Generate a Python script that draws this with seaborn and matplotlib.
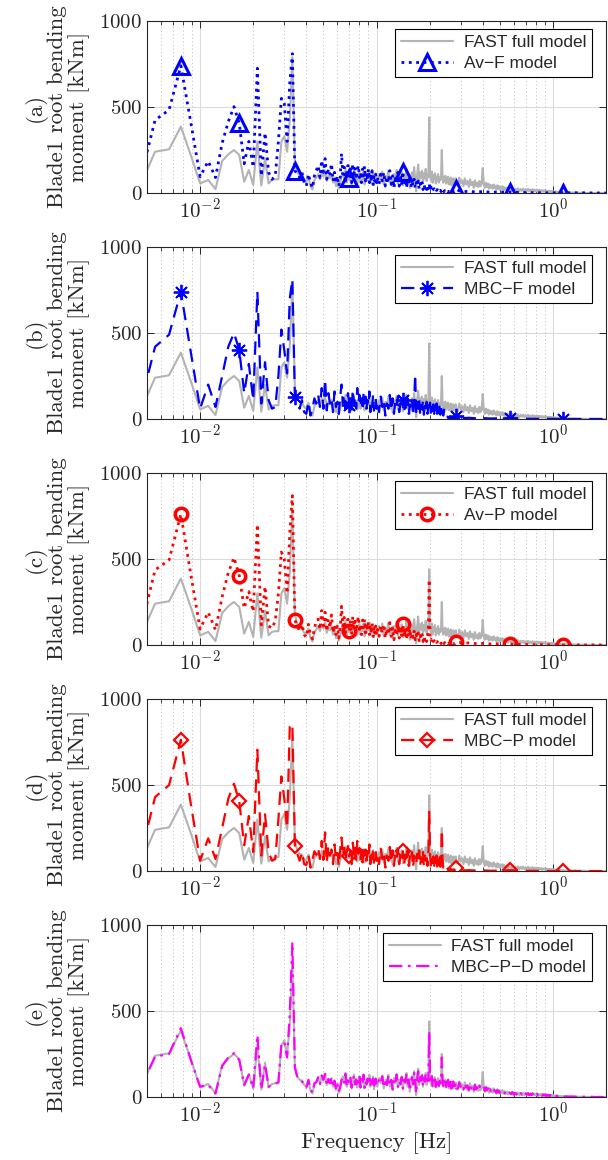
import numpy as np
import pandas as pd
import seaborn as sns
import matplotlib.pyplot as plt
from matplotlib.ticker import LogLocator, NullFormatter, FixedLocator

# FFT bins (bin width 1/900 Hz); values in [kNm]
DF = 1 / 900
LOW_BINS = list(range(4, 91))
MID_BINS = list(range(91, 256, 2))
FAST_TAIL_BINS = list(range(260, 501, 5)) + list(range(510, 1001, 10)) + list(range(1020, 1801, 30))
MODEL_TAIL_BINS = [265, 280, 300, 330, 360, 400, 450, 511, 600, 700, 850, 1023, 1300, 1800]
MARKER_BINS = [7, 15, 31, 63, 127, 255, 511, 1023]

# --- FAST full model ---
fast_low = [15, 240, 254, 386, 215, 56, 76, 23, 186, 225, 250, 221, 66, 134, 47, 300, 43, 200, 56, 76,
            80, 80, 300, 330, 240, 420, 790, 180, 120, 100, 95, 70,
            60, 95, 40, 20, 75, 90, 110, 80, 120, 95, 130, 70, 100, 85, 110, 60, 90, 40, 70, 25,
            60, 95, 120, 80, 140, 60, 100, 75, 115, 50, 90, 130, 70, 105, 55, 95, 120, 60, 100, 80,
            125, 50, 95, 70, 110, 85, 130, 60, 100, 75, 120, 45, 90, 110, 70]
fast_mid = [60, 110, 80, 125, 50, 100, 75, 130, 60, 95, 40, 110, 80, 135, 55, 100, 70, 120, 45, 95,
            80, 140, 60, 105, 30, 90, 120, 70, 150, 85, 10, 110, 165, 70, 120, 90, 130, 60, 115, 85,
            140, 70, 110, 90, 440, 100, 75, 125, 60, 105, 80, 115, 55, 95, 70, 110, 60, 90, 75, 105,
            250, 85, 60, 95, 70, 100, 55, 85, 65, 95, 50, 80, 60, 90, 45, 75, 55, 85, 50, 70,
            60, 85, 45]
fast_tail = [45, 90, 55, 75, 40, 85, 50, 70, 35, 80, 45, 65, 30, 75, 40, 60, 35, 70, 40, 55,
             145, 50, 30, 60, 35, 55, 25, 50, 30, 45, 25, 50, 30, 40, 20, 45, 25, 40, 20, 35,
             25, 40, 20, 35, 18, 30, 20, 32, 15,
             28, 15, 30, 12, 25, 14, 27, 10, 24, 13, 25, 11, 22, 12, 24, 10, 20, 11, 22, 9,
             19, 10, 20, 8, 18, 9, 17, 7, 16, 8, 15, 6, 14, 7, 13, 6, 12, 5, 11, 6,
             10, 4, 9, 5, 8, 4, 7, 3, 6, 3,
             5, 2, 4, 1, 3, 2, 3, 1, 2, 1, 2, 1, 1, 0, 1, 0, 1, 0, 1, 0, 0, 1, 0, 0, 0, 0, 0]

# --- (a) Av-F model ---
avf_low = [30, 424, 483, 740, 400, 95, 185, 90, 290, 415, 502, 405, 170, 300, 150, 725, 100, 350, 120, 80,
           100, 300, 550, 520, 300, 640, 810, 130, 110, 90, 120, 60,
           40, 110, 60, 30, 100, 130, 160, 90, 190, 120, 200, 80, 140, 110, 170, 70, 120, 60, 100, 40,
           90, 230, 110, 150, 70, 120, 160, 87, 140, 60, 170, 110, 150, 80, 130, 160, 90, 120, 60, 140,
           100, 155, 70, 120, 90, 140, 60, 110, 80, 130, 50, 100, 70, 110, 60]
avf_mid = [90, 50, 110, 70, 120, 40, 95, 60, 130, 50, 100, 30, 85, 60, 120, 40, 90, 55, 125, 45,
           85, 30, 75, 50, 95, 35, 70, 45, 80, 30, 60, 40, 70, 25, 55, 35, 60, 20, 50, 30,
           45, 20, 40, 25, 55, 20, 35, 15, 30, 20, 25, 12, 22, 15, 20, 10, 18, 12, 16, 8,
           20, 10, 15, 8, 14, 7, 12, 8, 12, 6, 10, 7, 11, 5, 10, 6, 9, 5, 8, 6,
           8, 12, 22]
avf_tail = [12, 8, 10, 6, 8, 5, 6, 5, 3, 2, 1, 2, 1, 0]

# --- (b) MBC-F model ---
mbcf_low = [30, 420, 490, 740, 380, 60, 200, 70, 250, 420, 500, 401, 150, 320, 110, 740, 90, 330, 110, 60,
            70, 250, 520, 400, 265, 700, 812, 125, 100, 60, 110, 40,
            30, 100, 20, 60, 120, 90, 140, 70, 180, 60, 230, 50, 150, 90, 120, 40, 160, 70, 100, 30,
            130, 200, 90, 140, 60, 110, 150, 80, 120, 40, 170, 90, 130, 60, 180, 100, 140, 70, 120, 50,
            150, 90, 130, 60, 110, 80, 160, 40, 100, 70, 140, 50, 90, 120, 60]
mbcf_mid = [100, 40, 130, 70, 110, 20, 90, 60, 140, 50, 120, 30, 100, 70, 130, 40, 90, 60, 110, 35,
            95, 50, 120, 30, 85, 60, 110, 20, 90, 260, 40, 100, 60, 120, 30, 80, 55, 110, 25, 90,
            60, 100, 30, 80, 50, 95, 25, 70, 45, 85, 30, 75, 40, 90, 20, 65, 35, 80, 25, 60,
            40, 70, 20, 55, 15, 10, 12, 8, 14, 6, 10, 5, 12, 7, 9, 4, 8, 6, 10, 5,
            7, 9, 15]
mbcf_tail = [8, 5, 7, 4, 5, 3, 4, 5, 2, 1, 1, 0, 0, 0]

# --- (c) Av-P model ---
avp_low = [30, 436, 494, 760, 400, 93, 190, 87, 280, 420, 508, 403, 213, 310, 194, 701, 116, 340, 110, 97,
           140, 300, 540, 500, 300, 650, 868, 145, 110, 80, 120, 60,
           45, 120, 60, 35, 95, 140, 150, 90, 200, 110, 190, 80, 150, 100, 175, 70, 115, 60, 110, 40,
           95, 225, 110, 160, 70, 125, 150, 80, 135, 60, 165, 110, 155, 80, 125, 165, 90, 115, 60, 145,
           100, 150, 70, 125, 90, 135, 60, 115, 80, 125, 50, 105, 70, 110, 60]
avp_mid = [90, 50, 110, 70, 120, 40, 95, 60, 130, 50, 100, 30, 85, 60, 120, 40, 90, 55, 120, 45,
           85, 30, 75, 50, 95, 35, 70, 45, 80, 30, 60, 40, 70, 25, 55, 35, 60, 20, 50, 30,
           45, 20, 50, 100, 380, 30, 35, 15, 30, 20, 25, 12, 22, 15, 20, 10, 18, 12, 16, 8,
           20, 10, 15, 8, 14, 7, 12, 8, 12, 6, 10, 7, 11, 5, 10, 6, 9, 5, 8, 6,
           8, 12, 15]
avp_tail = [15, 10, 12, 8, 9, 6, 7, 5, 3, 2, 1, 0, 0, 0]

# --- (d) MBC-P model ---
mbcp_low = [30, 430, 500, 763, 380, 60, 190, 70, 250, 420, 508, 405, 150, 320, 110, 705, 90, 330, 110, 60,
            70, 300, 550, 420, 250, 840, 857, 147, 100, 60, 110, 40,
            35, 95, 20, 65, 115, 95, 135, 70, 175, 65, 225, 50, 145, 90, 125, 40, 155, 70, 105, 30,
            125, 195, 90, 135, 60, 115, 145, 85, 120, 40, 165, 90, 135, 60, 175, 100, 135, 70, 125, 50,
            145, 90, 125, 60, 115, 80, 155, 40, 105, 70, 135, 50, 95, 115, 60]
mbcp_mid = [100, 40, 130, 70, 110, 20, 90, 60, 140, 50, 120, 30, 100, 70, 130, 40, 90, 60, 115, 35,
            95, 50, 120, 30, 85, 60, 110, 20, 90, 70, 40, 100, 60, 120, 30, 80, 55, 110, 25, 90,
            60, 100, 30, 80, 350, 95, 25, 70, 45, 85, 30, 75, 40, 90, 20, 65, 35, 80, 25, 60,
            240, 70, 20, 30, 15, 10, 12, 8, 14, 6, 10, 5, 12, 7, 9, 4, 8, 6, 10, 5,
            7, 9, 15]
mbcp_tail = [6, 4, 5, 3, 4, 2, 3, 5, 2, 1, 0, 0, 0, 0]

# --- (e) MBC-P-D model ---
mbcpd_low = [20, 235, 250, 400, 210, 60, 70, 20, 180, 230, 255, 215, 70, 130, 50, 360, 45, 190, 60, 70,
             80, 85, 310, 320, 230, 480, 900, 170, 115, 105, 90, 75,
             55, 100, 45, 25, 80, 85, 115, 75, 125, 100, 135, 65, 105, 80, 115, 55, 95, 45, 75, 30,
             55, 100, 115, 85, 135, 65, 95, 80, 110, 55, 85, 125, 75, 100, 60, 90, 125, 55, 105, 75,
             130, 55, 90, 75, 105, 90, 125, 65, 95, 80, 115, 50, 95, 105, 75]
mbcpd_mid = [65, 105, 85, 120, 55, 105, 70, 125, 65, 100, 45, 105, 85, 130, 60, 95, 75, 115, 50, 100,
             85, 135, 65, 100, 35, 95, 115, 75, 140, 90, 20, 105, 150, 75, 115, 95, 125, 65, 110, 90,
             135, 75, 105, 95, 380, 105, 80, 120, 65, 100, 85, 110, 60, 100, 75, 105, 65, 95, 80, 100,
             230, 90, 65, 100, 75, 95, 60, 90, 70, 100, 55, 85, 65, 95, 50, 80, 60, 90, 55, 75,
             65, 80, 50]
mbcpd_tail = [50, 85, 60, 70, 45, 80, 55, 65, 40, 75, 50, 60, 35, 70, 45, 55, 40, 65, 45, 50,
              60, 55, 35, 55, 40, 50, 30, 45, 35, 40, 30, 45, 35, 35, 25, 40, 30, 35, 25, 30,
              30, 35, 25, 30, 22, 28, 24, 28, 18,
              26, 17, 28, 14, 24, 15, 25, 12, 23, 14, 24, 12, 21, 13, 22, 11, 19, 12, 20, 10,
              18, 11, 19, 9, 17, 10, 16, 8, 15, 9, 14, 7, 13, 8, 12, 7, 11, 6, 10, 7,
              9, 5, 8, 6, 7, 5, 6, 4, 5, 4,
              4, 3, 3, 2, 3, 2, 2, 1, 2, 1, 1, 1, 1, 0, 1, 0, 1, 0, 0, 0, 0, 0, 0, 0, 0, 0, 0]

FAST_BINS = LOW_BINS + MID_BINS + FAST_TAIL_BINS
MODEL_BINS = LOW_BINS + MID_BINS + MODEL_TAIL_BINS

PANELS = [
    ("(a)", "Av\u2212F model", MODEL_BINS, avf_low + avf_mid + avf_tail,
     dict(color="blue", linestyle=":", linewidth=2.0, marker="^", markersize=11, markeredgewidth=2.2)),
    ("(b)", "MBC\u2212F model", MODEL_BINS, mbcf_low + mbcf_mid + mbcf_tail,
     dict(color="blue", dashes=(6, 3.5), linewidth=1.6, marker=(8, 2, 0), markersize=11, markeredgewidth=1.3)),
    ("(c)", "Av\u2212P model", MODEL_BINS, avp_low + avp_mid + avp_tail,
     dict(color="red", linestyle=":", linewidth=2.0, marker="o", markersize=9, markeredgewidth=2.5)),
    ("(d)", "MBC\u2212P model", MODEL_BINS, mbcp_low + mbcp_mid + mbcp_tail,
     dict(color="red", dashes=(6, 3.5), linewidth=1.6, marker="D", markersize=7.5, markeredgewidth=1.6)),
    ("(e)", "MBC\u2212P\u2212D model", FAST_BINS, mbcpd_low + mbcpd_mid + mbcpd_tail,
     dict(color="magenta", dashes=(6, 2.5, 1.2, 2.5), linewidth=1.6)),
]

sns.set_theme(style="white")
plt.rcParams.update({
    "font.family": "cmr10",
    "mathtext.fontset": "cm",
    "axes.formatter.use_mathtext": True,
    "axes.unicode_minus": True,
})

fast = pd.DataFrame({"freq": np.array(FAST_BINS) * DF, "moment": fast_low + fast_mid + fast_tail})

fig = plt.figure(figsize=(6.08, 11.6), dpi=100)
bottoms = [0.8336, 0.6388, 0.4440, 0.2491, 0.0543]
for (tag, name, bins, vals, style), bottom in zip(PANELS, bottoms):
    ax = fig.add_axes([0.2418, bottom, 0.755, 0.1483])
    model = pd.DataFrame({"freq": np.array(bins) * DF, "moment": vals})
    sns.lineplot(data=fast, x="freq", y="moment", ax=ax, color=(0.7, 0.7, 0.7),
                 linewidth=1.5, estimator=None, sort=False, label="FAST full model")
    if "marker" in style:
        style = dict(style, markevery=[i for i, b in enumerate(bins) if b in MARKER_BINS],
                     markerfacecolor="none", markeredgecolor=style["color"])
    sns.lineplot(data=model, x="freq", y="moment", ax=ax, estimator=None, sort=False,
                 label=name, **style)

    ax.set_xscale("log")
    ax.set_xlim(0.005, 2)
    ax.set_ylim(0, 1000)
    ax.yaxis.set_major_locator(FixedLocator([0, 500, 1000]))
    ax.xaxis.set_major_locator(LogLocator(base=10, numticks=10))
    ax.xaxis.set_minor_locator(LogLocator(base=10, subs=np.arange(2, 10), numticks=20))
    ax.xaxis.set_minor_formatter(NullFormatter())
    ax.grid(True, which="major", color=(0.86, 0.86, 0.86), linewidth=0.8, linestyle="-")
    ax.grid(True, which="minor", axis="x", color=(0.78, 0.78, 0.78), linewidth=0.7, linestyle=(0, (1.2, 2.5)))
    ax.set_axisbelow(True)
    ax.tick_params(which="both", direction="in", top=True, right=True, bottom=True, left=True,
                   labelsize=15, color=(0.15, 0.15, 0.15))
    ax.tick_params(which="major", length=5, width=0.7)
    ax.tick_params(which="minor", length=3, width=0.6)
    for sp in ax.spines.values():
        sp.set_color((0.15, 0.15, 0.15))
        sp.set_linewidth(0.8)

    ax.set_ylabel(f"{tag}\nBlade1 root bending\nmoment [kNm]", fontsize=16.5, linespacing=1.05, labelpad=7)
    ax.set_xlabel("Frequency [Hz]" if tag == "(e)" else "", fontsize=16.5)

    leg = ax.legend(loc="upper right", bbox_to_anchor=(0.97, 0.953), borderaxespad=0,
                    prop={"family": "Liberation Sans", "size": 12.5}, handlelength=3.0,
                    fancybox=False, framealpha=1, edgecolor="black", borderpad=0.35,
                    labelspacing=0.3, handletextpad=0.6)
    leg.get_frame().set_linewidth(0.8)

fig.savefig("out.png", dpi=100)
